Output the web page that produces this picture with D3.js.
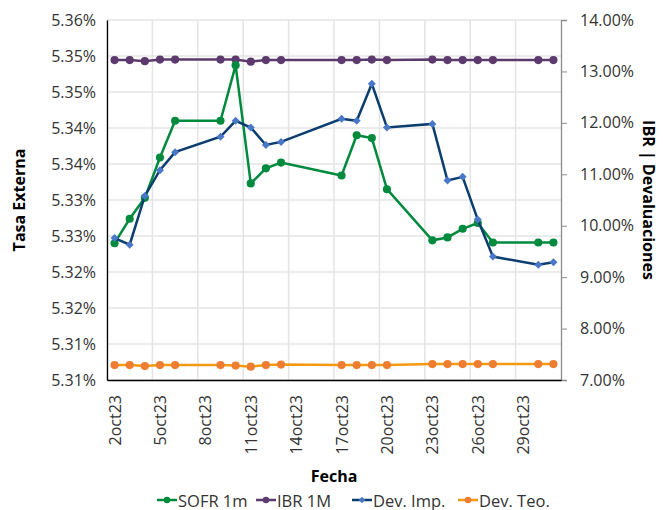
<!DOCTYPE html>
<html>
<head>
<meta charset="utf-8">
<script src="https://cdn.jsdelivr.net/npm/d3@7"></script>
<style>
  body { margin: 0; background: #fff; }
  svg { font-family: "Open Sans", "Noto Sans", sans-serif; }
</style>
</head>
<body>
<div id="chart"></div>
<script>
const width = 663;
const height = 510;

// datos: días hábiles de octubre 2023
const dias = [2, 3, 4, 5, 6, 9, 10, 11, 12, 13, 17, 18, 19, 20, 23, 24, 25, 26, 27, 30, 31];
const sofr = [5.3290, 5.3324, 5.3353, 5.3409, 5.3460, 5.3460, 5.3537, 5.3373, 5.3394, 5.3402, 5.3384,
  5.3440, 5.3436, 5.3365, 5.3294, 5.3298, 5.3310, 5.3318, 5.3291, 5.3291, 5.3291];
const ibr = [13.22, 13.22, 13.20, 13.23, 13.23, 13.23, 13.23, 13.19, 13.22, 13.22, 13.22,
  13.22, 13.23, 13.22, 13.23, 13.22, 13.22, 13.22, 13.22, 13.22, 13.22];
const devImp = [9.76, 9.63, 10.58, 11.08, 11.43, 11.73, 12.04, 11.91, 11.57, 11.63, 12.08,
  12.04, 12.76, 11.91, 11.98, 10.88, 10.95, 10.12, 9.40, 9.24, 9.29];
const devTeo = [7.29, 7.29, 7.27, 7.29, 7.29, 7.29, 7.28, 7.26, 7.29, 7.30, 7.29,
  7.29, 7.29, 7.29, 7.31, 7.31, 7.31, 7.31, 7.31, 7.31, 7.31];

const xTickDias = [2, 5, 8, 11, 14, 17, 20, 23, 26, 29];
const xTickLabels = ["2oct23", "5oct23", "8oct23", "11oct23", "14oct23", "17oct23", "20oct23", "23oct23", "26oct23", "29oct23"];
const yLeftTicks = [5.31, 5.315, 5.32, 5.325, 5.33, 5.335, 5.34, 5.345, 5.35, 5.355, 5.36];
const yLeftLabels = ["5.31%", "5.31%", "5.32%", "5.32%", "5.33%", "5.33%", "5.34%", "5.34%", "5.35%", "5.35%", "5.36%"];
const yRightTicks = [7, 8, 9, 10, 11, 12, 13, 14];

const margin = {top: 20, right: 102, bottom: 130, left: 107};
const x0 = margin.left, x1 = width - margin.right;
const y0 = height - margin.bottom, y1 = margin.top;

const svg = d3.select("#chart")
  .append("svg")
  .attr("width", width)
  .attr("height", height);

const x = d3.scaleLinear().domain([1.5, 31.5]).range([x0, x1]);
const yL = d3.scaleLinear().domain([5.31, 5.36]).range([y0, y1]);
const yR = d3.scaleLinear().domain([7, 14]).range([y0, y1]);

// grilla
const grid = svg.append("g").attr("stroke", "#e4e4e4").attr("stroke-width", 1.5);
grid.selectAll("line.h")
  .data(yLeftTicks)
  .join("line")
  .attr("x1", x0).attr("x2", x1)
  .attr("y1", d => yL(d)).attr("y2", d => yL(d));
grid.selectAll("line.v")
  .data(xTickDias.map(d => d - 0.5))
  .join("line")
  .attr("x1", d => x(d)).attr("x2", d => x(d))
  .attr("y1", y1).attr("y2", y0);

// ejes
const axL = svg.append("g")
  .attr("transform", `translate(${x0},0)`)
  .call(d3.axisLeft(yL).tickValues(yLeftTicks).tickSize(0).tickPadding(11)
    .tickFormat((d, i) => yLeftLabels[i]));
axL.select(".domain").attr("stroke", "#000").attr("stroke-width", 1.3);

const axR = svg.append("g")
  .attr("transform", `translate(${x1},0)`)
  .call(d3.axisRight(yR).tickValues(yRightTicks).tickSize(6).tickPadding(13)
    .tickFormat(d => d.toFixed(2) + "%"));
axR.select(".domain").attr("stroke", "#8c8c8c").attr("stroke-width", 1.3);
axR.selectAll(".tick line").attr("stroke", "#8c8c8c");

const axB = svg.append("g")
  .attr("transform", `translate(0,${y0})`)
  .call(d3.axisBottom(x).tickValues(xTickDias).tickSize(0).tickSizeOuter(0)
    .tickFormat((d, i) => xTickLabels[i]));
axB.select(".domain").attr("stroke", "#000").attr("stroke-width", 1.3);
axB.selectAll(".tick text")
  .attr("transform", "rotate(-90)")
  .attr("text-anchor", "end")
  .attr("x", -15)
  .attr("y", 0)
  .attr("dy", "0.35em");

svg.selectAll(".tick text")
  .attr("font-size", 16)
  .attr("font-family", "'Open Sans', 'Noto Sans', sans-serif")
  .attr("fill", "#333");

// series
const series = [
  {name: "SOFR 1m", values: sofr, scale: yL, line: "#008a3e", fill: "#008a3e", shape: "circle"},
  {name: "IBR 1M", values: ibr, scale: yR, line: "#5c3a6e", fill: "#5c3a6e", shape: "circle"},
  {name: "Dev. Imp.", values: devImp, scale: yR, line: "#0b3d6e", fill: "#4a78c8", shape: "diamond"},
  {name: "Dev. Teo.", values: devTeo, scale: yR, line: "#f39a12", fill: "#ed7d31", shape: "circle"}
];

function marker(s, big) {
  if (s.shape === "diamond") return d3.symbol().type(d3.symbolSquare).size(big ? 32 : 22)();
  return d3.symbol().type(d3.symbolCircle).size(big ? 52 : 32)();
}
const rot = s => s.shape === "diamond" ? " rotate(45)" : "";

const drawOrder = [1, 3, 0, 2];
drawOrder.forEach(k => {
  const s = series[k];
  const pts = dias.map((d, i) => [d, s.values[i]]);
  const g = svg.append("g");
  g.append("path")
    .datum(pts)
    .attr("fill", "none")
    .attr("stroke", s.line)
    .attr("stroke-width", 2.5)
    .attr("d", d3.line().x(d => x(d[0])).y(d => s.scale(d[1])));
  g.selectAll("path.m")
    .data(pts)
    .join("path")
    .attr("class", "m")
    .attr("transform", d => `translate(${x(d[0])},${s.scale(d[1])})` + rot(s))
    .attr("d", marker(s, true))
    .attr("fill", s.fill);
});

// títulos de ejes
svg.append("text")
  .attr("transform", `translate(25,${(y0 + y1) / 2}) rotate(-90)`)
  .attr("text-anchor", "middle")
  .attr("font-size", 16).attr("font-weight", "bold")
  .text("Tasa Externa");

svg.append("text")
  .attr("transform", `translate(643,${(y0 + y1) / 2}) rotate(90)`)
  .attr("text-anchor", "middle")
  .attr("font-size", 16).attr("font-weight", "bold")
  .text("IBR | Devaluaciones");

svg.append("text")
  .attr("x", (x0 + x1) / 2)
  .attr("y", 482)
  .attr("text-anchor", "middle")
  .attr("font-size", 16).attr("font-weight", "bold")
  .text("Fecha");

// leyenda
const legX = [157, 256, 352, 458];
const leg = svg.append("g").attr("transform", "translate(0,500)");
series.forEach((s, i) => {
  const g = leg.append("g").attr("transform", `translate(${legX[i]},0)`);
  g.append("line").attr("x1", 0).attr("x2", 20).attr("stroke", s.line).attr("stroke-width", 2.5);
  g.append("path")
    .attr("transform", "translate(10,0)" + rot(s))
    .attr("d", marker(s, false))
    .attr("fill", s.fill);
  g.append("text")
    .attr("x", 21).attr("y", 6.5)
    .attr("font-size", 16.5).attr("fill", "#333")
    .text(s.name);
});
</script>
</body>
</html>
